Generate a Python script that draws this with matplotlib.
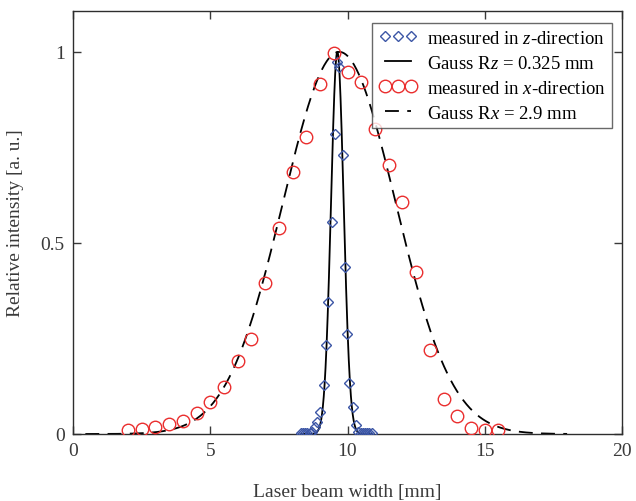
import numpy as np
import matplotlib
matplotlib.use("Agg")
import matplotlib.pyplot as plt

# ---- data ----
x_meas_x = [2.0, 2.5, 3.0, 3.5, 4.0, 4.5, 5.0, 5.5, 6.0, 6.5, 7.0, 7.5, 8.0, 8.5,
            9.0, 9.5, 10.0, 10.5, 11.0, 11.5, 12.0, 12.5, 13.0, 13.5, 14.0, 14.5,
            15.0, 15.5]
y_meas_x = [0.010, 0.013, 0.019, 0.026, 0.034, 0.054, 0.083, 0.122, 0.192, 0.249,
            0.395, 0.539, 0.685, 0.778, 0.916, 0.997, 0.948, 0.922, 0.798, 0.705,
            0.608, 0.423, 0.221, 0.092, 0.048, 0.017, 0.010, 0.010]

x_meas_z = [8.30, 8.38, 8.46, 8.54, 8.62, 8.70, 8.80, 8.90, 9.01, 9.15, 9.21, 9.29,
            9.43, 9.53, 9.62, 9.69, 9.82, 9.91, 9.99, 10.07, 10.19, 10.32, 10.40,
            10.48, 10.56, 10.64, 10.72, 10.80, 10.88]
y_meas_z = [0.002, 0.002, 0.002, 0.003, 0.003, 0.005, 0.018, 0.032, 0.058, 0.128,
            0.233, 0.345, 0.554, 0.785, 0.973, 0.960, 0.729, 0.436, 0.262, 0.134,
            0.070, 0.024, 0.006, 0.003, 0.002, 0.002, 0.002, 0.002, 0.002]

# Gaussian fit parameters (from legend)
Rz, z_center = 0.325, 9.63
Rx, x_center = 2.9, 9.70
z_fit_range = (8.3, 10.9)
x_fit_range = (0.45, 18.0)

x_ticks = [0, 5, 10, 15, 20]
y_ticks = [0, 0.5, 1]
y_ticklabels = ["0", "0.5", "1"]

plt.rcParams['font.family'] = ['Liberation Serif', 'DejaVu Serif']
plt.rcParams['mathtext.fontset'] = 'custom'
plt.rcParams['mathtext.rm'] = 'Liberation Serif'
plt.rcParams['mathtext.it'] = 'Liberation Serif:italic'
plt.rcParams['lines.scale_dashes'] = False

fig = plt.figure(figsize=(6.36, 5.02), dpi=100)
ax = fig.add_axes([73/636, 1-435/502, (622-73)/636, (435-12)/502])

zz = np.linspace(*z_fit_range, 400)
xx = np.linspace(*x_fit_range, 600)
fit_z = np.exp(-((zz - z_center) / Rz) ** 2)
fit_x = np.exp(-((xx - x_center) / Rx) ** 2)

blue = '#3c56a6'
red = '#ea2e2e'
txt = '#3a3a3a'

h1, = ax.plot(x_meas_z, y_meas_z, linestyle='none', marker='D', markersize=5,
              markerfacecolor='none', markeredgecolor=blue, markeredgewidth=1.0,
              label='measured in $z$-direction', zorder=3)
h2, = ax.plot(zz, fit_z, color='black', lw=1.3, label='Gauss R$z$ = 0.325 mm', zorder=2)
h3, = ax.plot(x_meas_x, y_meas_x, linestyle='none', marker='o', markersize=9,
              markerfacecolor='none', markeredgecolor=red, markeredgewidth=1.0,
              label='measured in $x$-direction', zorder=3)
h4, = ax.plot(xx, fit_x, color='black', lw=1.3, dashes=(10, 6),
              label='Gauss R$x$ = 2.9 mm', zorder=2)

ax.set_xlim(0, 20)
ax.set_ylim(0, 1.107)
ax.set_xticks(x_ticks)
ax.set_yticks(y_ticks)
ax.set_yticklabels(y_ticklabels)
ax.tick_params(direction='in', top=True, right=True, length=6, width=1,
               labelsize=14, colors=txt, pad=6)
for s in ax.spines.values():
    s.set_color('#2e2e2e')
    s.set_linewidth(1.0)

ax.set_xlabel('Laser beam width [mm]', fontsize=14, color=txt, labelpad=17)
ax.set_ylabel('Relative intensity [a. u.]', fontsize=14, color=txt, labelpad=12)

leg = ax.legend(handles=[h1, h2, h3, h4], loc='upper right', numpoints=3,
                fontsize=13.5, frameon=True, fancybox=False, edgecolor='#444444',
                handlelength=2.0, handletextpad=0.55, borderpad=0.35,
                labelspacing=0.42, borderaxespad=0.0,
                bbox_to_anchor=(0.982, 0.972))
leg.get_frame().set_linewidth(1.0)

fig.savefig('out.png', dpi=100)
